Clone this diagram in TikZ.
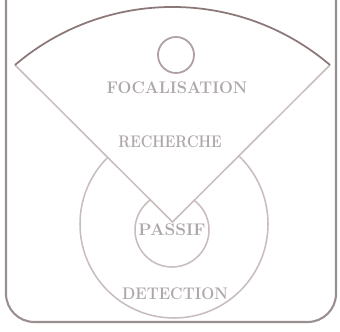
\documentclass[tikz,border=0pt]{standalone}
\usepackage{fontspec}
\usetikzlibrary{calc, positioning}

\definecolor{framegray}{RGB}{155,142,142}
\definecolor{linegray}{RGB}{200,188,188}
\definecolor{arcgray}{RGB}{140,120,120}
\definecolor{textgray}{RGB}{175,168,168}

\tikzset{
  zoneline/.style={linegray,line width=1.3pt},
  zonetext/.style={textgray,font=\fontsize{12.5}{15}\selectfont\bfseries,inner sep=0pt,xscale=1.12,yscale=1.15}
}

\begin{document}
\begin{tikzpicture}[x=0.03cm,y=0.03cm]
\useasboundingbox (0,0) rectangle (340,331);
\clip (0,0) rectangle (340,331);
\def\fanr{242.8}
\def\fanbeg{49.55}
\def\fanend{130.45}
\coordinate (Vtx) at (172.5,109);
\coordinate (Rc) at (330,266);
\coordinate (Lc) at (15,266);
\coordinate (Det) at (174,107);
\coordinate (Pas) at (172,101);
\coordinate (Foc) at (176,276);

% frame, open at the top
\draw[framegray,line width=1.8pt,rounded corners=0.85cm]
  (6,345) -- (6,9) -- (336,9) -- (336,345);

% detection and passive zones
\draw[zoneline] (Det) circle[radius=94];
\draw[zoneline] (Pas) circle[radius=37];

% search fan
\fill[white] (Vtx) -- (Rc) arc[start angle=\fanbeg,end angle=\fanend,radius=\fanr] -- cycle;
\draw[zoneline] (Lc) -- (Vtx) -- (Rc);
\draw[arcgray,line width=1.5pt] (Rc) arc[start angle=\fanbeg,end angle=\fanend,radius=\fanr];

% focus
\draw[arcgray!70,line width=1.5pt] (Foc) circle[radius=18];

\node[zonetext] (focal) at (177,243) {FOCALISATION};
\node[zonetext,xscale=0.87] (rech) at (170,189) {RECHERCHE};
\node[zonetext,xscale=1.05] (passif) at (172,101) {PASSIF};
\node[zonetext,xscale=0.94] (detect) at (175,37) {DETECTION};
\end{tikzpicture}
\end{document}
